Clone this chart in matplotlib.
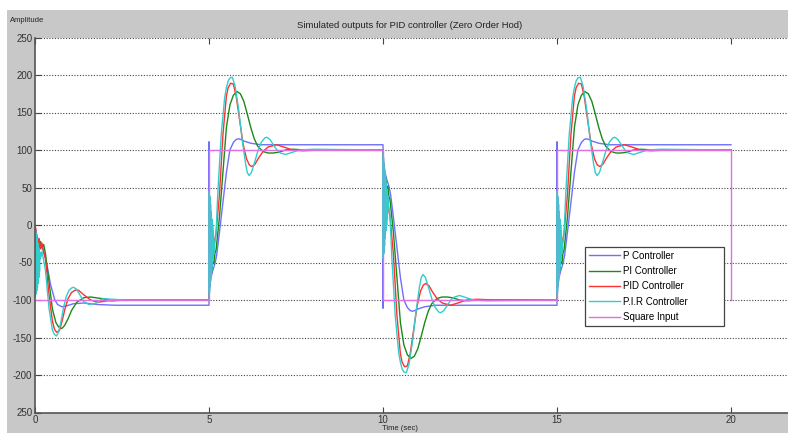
import numpy as np
import matplotlib
matplotlib.use('Agg')
import matplotlib.pyplot as plt
from matplotlib.patches import Rectangle

plt.rcParams['font.family'] = ['Liberation Sans', 'DejaVu Sans']

# square reference input
sq_t = [0, 5, 10, 15, 20]
sq_v = [-100, 100, -100, 100, -100]

# first segment (0..5 s), response from 0 towards -100
p_first_t = [0, 0.05, 0.15, 0.25, 0.35, 0.45, 0.57, 0.65, 0.77, 0.9, 1.1, 1.4, 1.8, 2.3, 5]
p_first_v = [0, -15, -25, -35, -55, -80, -100, -106, -109, -108, -105, -104, -106, -107, -107]

pi_first_t = [0, 0.04, 0.08, 0.12, 0.16, 0.2, 0.25, 0.3, 0.4, 0.5, 0.6, 0.68, 0.77, 0.85,
              0.95, 1.05, 1.2, 1.4, 1.6, 1.9, 2.2, 2.6, 3.0, 5]
pi_first_v = [0, -25, -20, -32, -22, -30, -26, -38, -75, -112, -130, -136, -138, -134,
              -125, -114, -103, -97, -96, -98, -101, -100, -100, -100]

pid_first_t = [0, 0.04, 0.08, 0.12, 0.16, 0.2, 0.25, 0.3, 0.4, 0.5, 0.56, 0.62, 0.7, 0.78,
               0.86, 0.95, 1.05, 1.15, 1.25, 1.4, 1.6, 1.8, 2.1, 2.6, 5]
pid_first_v = [0, -10, -28, -18, -32, -24, -36, -45, -92, -128, -139, -143, -141, -128,
               -112, -98, -90, -87, -87, -93, -100, -103, -101, -100, -100]

pir_first_t = [0, 0.01, 0.02, 0.03, 0.04, 0.05, 0.06, 0.07, 0.08, 0.09, 0.1, 0.11, 0.12,
               0.13, 0.14, 0.16, 0.2, 0.3, 0.4, 0.5, 0.56, 0.62, 0.68, 0.75, 0.82, 0.9,
               0.98, 1.05, 1.1, 1.18, 1.25, 1.4, 1.55, 1.77, 1.95, 2.2, 2.6, 5]
pir_first_v = [0, -96, -8, -92, -12, -88, -18, -84, -24, -78, -28, -70, -32, -62, -36,
               -45, -35, -60, -110, -140, -146, -148, -142, -128, -110, -95, -87, -84,
               -83, -85, -90, -102, -106, -104, -98, -99, -100, -100]

# response to one full step up (time measured from the switching instant)
p_up_t = [0, 0.001, 0.02, 0.06, 0.1, 0.14, 0.18, 0.22, 0.3, 0.4, 0.5, 0.6, 0.7,
          0.78, 0.84, 0.92, 1.0, 1.2, 1.5, 2.0, 5]
p_up_v = [-107, 111, -84, -70, -62, -56, -50, -40, -10, 30, 70, 100, 110,
          114, 115, 114, 112, 109, 107, 107, 107]

pi_up_t = [0, 0.02, 0.05, 0.08, 0.11, 0.14, 0.17, 0.2, 0.3, 0.4, 0.5, 0.6, 0.7, 0.8,
           0.9, 1.0, 1.1, 1.2, 1.3, 1.4, 1.55, 1.7, 1.84, 2.0, 2.2, 2.4, 2.8, 3.5, 5]
pi_up_v = [-100, -72, -52, -62, -44, -52, -38, -34, 10, 70, 130, 160, 173, 178,
           175, 165, 148, 130, 115, 105, 98, 96, 96, 97, 100, 101, 100, 100, 100]

pid_up_t = [0, 0.02, 0.05, 0.08, 0.11, 0.14, 0.17, 0.2, 0.3, 0.4, 0.5, 0.55, 0.62,
            0.7, 0.78, 0.88, 0.98, 1.08, 1.16, 1.23, 1.32, 1.42, 1.55, 1.7, 1.94,
            2.15, 2.4, 2.7, 3.2, 5]
pid_up_v = [-100, -55, -32, -46, -24, -34, -18, -12, 40, 120, 172, 183, 189,
            188, 172, 140, 108, 88, 80, 78, 81, 89, 98, 104, 107,
            104, 100, 99, 100, 100]

pir_up_t = [0, 0.005, 0.015, 0.025, 0.035, 0.045, 0.055, 0.065, 0.075, 0.085, 0.095,
            0.105, 0.115, 0.125, 0.14, 0.16, 0.2, 0.25, 0.35, 0.45, 0.5, 0.55, 0.6,
            0.67, 0.75, 0.85, 0.95, 1.05, 1.1, 1.15, 1.22, 1.3, 1.4, 1.5, 1.6, 1.66,
            1.75, 1.85, 1.95, 2.05, 2.2, 2.4, 2.6, 3.0, 5]
pir_up_v = [-100, 45, -90, 38, -78, 28, -70, 18, -62, 8, -55, 0, -48, -8, -38, -25,
            -15, 40, 120, 170, 183, 192, 196, 197, 185, 155, 115, 82, 70, 66, 70,
            82, 98, 110, 116, 117, 114, 107, 100, 96, 94, 97, 100, 101, 100]

labels = ['P Controller', 'PI Controller', 'PID Controller', 'P.I.R Controller', 'Square Input']
colors = ['#6f6fff', '#1a8a1a', '#ff3030', '#33cccc', '#e070e0']


def build(first_t, first_v, up_t, up_v):
    # first half period, then up / down / up steps at 5, 10, 15 s
    t = list(first_t)
    v = list(first_v)
    for k, start in enumerate([5, 10, 15]):
        sign = -1 if k == 1 else 1
        t += [start + x for x in up_t]
        v += [sign * y for y in up_v]
    return t, v


series = [build(p_first_t, p_first_v, p_up_t, p_up_v),
          build(pi_first_t, pi_first_v, pi_up_t, pi_up_v),
          build(pid_first_t, pid_first_v, pid_up_t, pid_up_v),
          build(pir_first_t, pir_first_v, pir_up_t, pir_up_v)]

fig = plt.figure(figsize=(7.88, 4.33), dpi=100)
fig.patch.set_facecolor('white')
fig.patches.append(Rectangle((7/788, 0), 1, (433-10)/433, transform=fig.transFigure,
                             facecolor='#c8c8c8', edgecolor='none', zorder=-10))

ax = fig.add_axes([35/788, 20.5/433, 753/788, 375/433])
ax.set_facecolor('white')

for (t, v), c, lab in zip(series, colors[:4], labels[:4]):
    ax.plot(t, v, color=c, lw=1.0, label=lab)
ax.step(sq_t, sq_v, where='post', color=colors[4], lw=1.0, label=labels[4])

ax.set_xlim(0, 753/34.8)
ax.set_ylim(-250, 250)

yt = [250, 200, 150, 100, 50, 0, -50, -100, -150, -200, -250]
ax.set_yticks(yt)
ax.set_yticklabels(['250', '200', '150', '100', '50', '0', '-50', '-100', '-150', '-200', '250'])
ax.set_xticks([0, 5, 10, 15, 20])
ax.tick_params(axis='both', direction='in', length=4, width=0.8, colors='#444',
               labelsize=7, labelcolor='#333', pad=2)
ax.tick_params(axis='x', top=True)
ax.yaxis.grid(True, linestyle=(0, (1, 1.5)), color='#444', lw=0.8)
ax.set_axisbelow(True)

ax.spines['top'].set_visible(False)
ax.spines['right'].set_visible(False)
ax.spines['left'].set_color('#555')
ax.spines['bottom'].set_color('#555')
ax.spines['left'].set_linewidth(1.2)
ax.spines['bottom'].set_linewidth(1.2)

leg = ax.legend(loc='lower left', bbox_to_anchor=(0.730, 0.231, 0.185, 0.21), mode='expand',
                fontsize=7, fancybox=False, framealpha=1, edgecolor='#444', labelspacing=0.55,
                handlelength=3.2, handletextpad=0.3, borderpad=0.4, borderaxespad=0)
leg.get_frame().set_linewidth(0.9)

fig.text(410/788, 1-25/433, 'Simulated outputs for PID controller (Zero Order Hod)',
         ha='center', va='center', fontsize=6.8, color='#222')
fig.text(10/788, 1-20/433, 'Amplitude', ha='left', va='center', fontsize=5.5, color='#222')
fig.text(400/788, 1-428/433, 'Time (sec)', ha='center', va='center', fontsize=5.5, color='#222')

fig.savefig('out.png', dpi=100)
